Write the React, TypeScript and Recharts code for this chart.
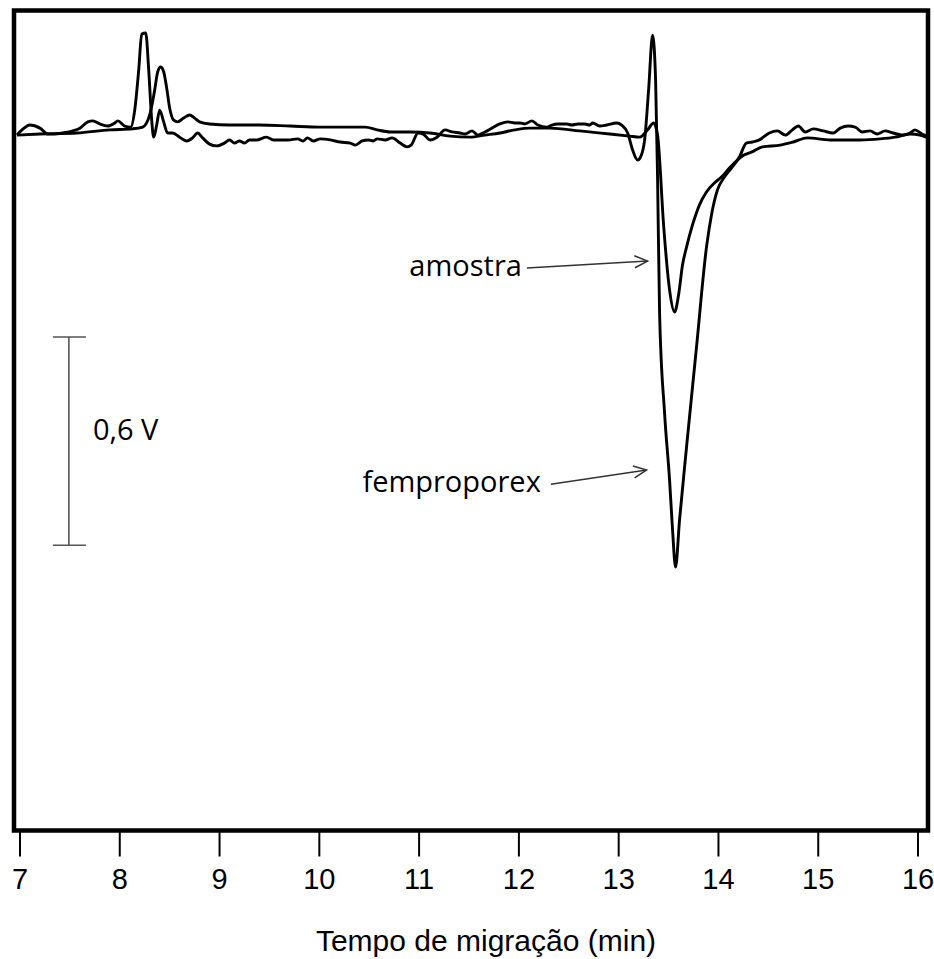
import React from 'react';
import { LineChart, Line, XAxis, YAxis, ReferenceArea, ReferenceLine } from 'recharts';

// eixo x: tempo de migração (min)
const timeTicks = [7, 8, 9, 10, 11, 12, 13, 14, 15, 16];
const timeDomain = [6.94, 16.1];
// eixo y: sinal (V), baseline em 0
const signalDomain = [-2.01, 0.353];

// femproporex (trace with noise, big peak)
const femproporexTime = [
  6.97, 7.02, 7.1, 7.2, 7.28, 7.35, 7.43, 7.53, 7.6, 7.68, 7.73, 7.8, 7.88, 7.95, 7.98, 8.05, 8.11, 8.15,
  8.19, 8.22, 8.26, 8.29, 8.32, 8.34, 8.37, 8.4, 8.44, 8.48, 8.53, 8.6, 8.67, 8.73, 8.78, 8.83, 8.9, 8.97,
  9.05, 9.1, 9.15, 9.2, 9.25, 9.3, 9.37, 9.47, 9.54, 9.61, 9.69, 9.78, 9.84, 9.88, 9.94, 10.01, 10.11,
  10.21, 10.31, 10.36, 10.43, 10.49, 10.54, 10.58, 10.66, 10.73, 10.81, 10.88, 10.92, 10.99, 11.04, 11.11,
  11.18, 11.26, 11.33, 11.41, 11.46, 11.53, 11.59, 11.66, 11.73, 11.81, 11.89, 11.96, 12.01, 12.06, 12.13,
  12.19, 12.28, 12.33, 12.39, 12.48, 12.53, 12.59, 12.66, 12.71, 12.74, 12.81, 12.88, 12.98, 13.03, 13.09,
  13.14, 13.19, 13.22, 13.26, 13.3, 13.34, 13.37, 13.39, 13.41, 13.46, 13.51, 13.54, 13.57, 13.61, 13.68,
  13.78, 13.88, 13.93, 13.99, 14.06, 14.13, 14.21, 14.28, 14.34, 14.41, 14.51, 14.59, 14.67, 14.74, 14.8,
  14.87, 14.95, 15.05, 15.15, 15.22, 15.3, 15.37, 15.44, 15.52, 15.59, 15.67, 15.75, 15.85, 15.92, 15.97,
  16.04, 16.1,
];
const femproporexSignal = [
  -0.006, 0.009, 0.023, 0.014, -0.003, -0.003, 0.0, 0.006, 0.014, 0.032, 0.035, 0.026, 0.02, 0.029, 0.035,
  0.02, 0.017, 0.066, 0.182, 0.285, 0.288, 0.182, 0.037, -0.012, 0.023, 0.066, 0.032, 0.0, 0.0, -0.012,
  -0.023, -0.014, 0.0, -0.014, -0.032, -0.037, -0.029, -0.02, -0.029, -0.023, -0.029, -0.02, -0.02, -0.012,
  -0.02, -0.02, -0.02, -0.017, -0.023, -0.014, -0.023, -0.017, -0.02, -0.026, -0.029, -0.035, -0.023, -0.02,
  -0.023, -0.017, -0.02, -0.014, -0.029, -0.04, -0.035, 0.0, -0.003, -0.02, -0.012, 0.009, 0.003, 0.0,
  -0.003, 0.006, -0.006, 0.003, 0.014, 0.026, 0.032, 0.029, 0.029, 0.026, 0.035, 0.023, 0.017, 0.023, 0.026,
  0.026, 0.023, 0.026, 0.026, 0.023, 0.029, 0.02, 0.023, 0.029, 0.023, 0.0, -0.049, -0.078, -0.069, -0.02,
  0.124, 0.282, 0.153, -0.135, -0.519, -0.807, -1.0, -1.144, -1.251, -1.115, -0.905, -0.617, -0.329, -0.236,
  -0.164, -0.127, -0.101, -0.069, -0.029, -0.026, -0.02, 0.0, 0.006, -0.006, 0.009, 0.02, 0.003, 0.012,
  0.006, 0.0, 0.014, 0.02, 0.017, 0.003, 0.006, -0.003, 0.006, 0.0, -0.006, 0.0, 0.009, -0.003, -0.009,
];

// amostra (smoother trace, smaller peak)
const amostraTime = [
  6.97, 7.2, 7.57, 7.9, 8.13, 8.23, 8.3, 8.35, 8.38, 8.41, 8.44, 8.47, 8.5, 8.54, 8.58, 8.64, 8.7, 8.75,
  8.8, 8.9, 9.1, 9.4, 9.71, 10.01, 10.31, 10.46, 10.58, 10.71, 10.91, 11.11, 11.31, 11.51, 11.66, 11.81,
  11.96, 12.11, 12.31, 12.61, 12.91, 13.11, 13.21, 13.29, 13.35, 13.39, 13.42, 13.44, 13.47, 13.51, 13.56,
  13.6, 13.64, 13.68, 13.74, 13.81, 13.88, 13.96, 14.03, 14.11, 14.18, 14.26, 14.33, 14.44, 14.62, 14.75,
  14.89, 15.12, 15.42, 15.62, 15.77, 15.92, 16.02, 16.1,
];
const amostraSignal = [
  -0.006, -0.003, 0.0, 0.009, 0.012, 0.017, 0.052, 0.124, 0.176, 0.19, 0.176, 0.13, 0.072, 0.037, 0.032,
  0.043, 0.052, 0.043, 0.032, 0.026, 0.023, 0.023, 0.02, 0.017, 0.017, 0.017, 0.009, 0.003, 0.003, 0.0,
  -0.009, -0.012, -0.006, 0.0, 0.009, 0.014, 0.014, 0.006, -0.003, -0.009, -0.012, 0.009, 0.029, -0.006,
  -0.121, -0.222, -0.337, -0.452, -0.516, -0.467, -0.38, -0.329, -0.265, -0.207, -0.17, -0.144, -0.127,
  -0.101, -0.081, -0.063, -0.055, -0.04, -0.035, -0.026, -0.014, -0.02, -0.02, -0.017, -0.012, -0.003,
  -0.006, -0.014,
];

// barra de escala 0,6 V
const scaleBarTime = 7.49;
const scaleBarTop = -0.588;
const scaleBarSize = 0.6;

// setas das anotações: [inicio, fim] em (min, V)
const amostraArrow = [
  { x: 12.08, y: -0.389 },
  { x: 13.29, y: -0.369 },
];
const femproporexArrow = [
  { x: 12.32, y: -1.012 },
  { x: 13.28, y: -0.971 },
];

const femproporexData = femproporexTime.map((t, i) => ({ t, v: femproporexSignal[i] }));
const amostraData = amostraTime.map((t, i) => ({ t, v: amostraSignal[i] }));

const axisFont = '"Liberation Sans", Arial, sans-serif';
const labelFont = '"Open Sans", "DejaVu Sans", sans-serif';

const makeArrow = (text: string, gap: number) => (p: any) => {
  const { x1, y1, x2, y2 } = p;
  const ang = Math.atan2(y2 - y1, x2 - x1);
  const hl = 13;
  const hw = 6;
  const bx = x2 - hl * Math.cos(ang);
  const by = y2 - hl * Math.sin(ang);
  const nx = -Math.sin(ang) * hw;
  const ny = Math.cos(ang) * hw;
  return (
    <g>
      <line x1={x1} y1={y1} x2={x2} y2={y2} stroke="#333" strokeWidth={1.5} />
      <polyline
        points={`${bx + nx},${by + ny} ${x2},${y2} ${bx - nx},${by - ny}`}
        fill="none"
        stroke="#333"
        strokeWidth={1.5}
      />
      <text x={x1 - gap} y={y1 + 8} textAnchor="end" fontSize={29} fontFamily={labelFont} fill="#000">
        {text}
      </text>
    </g>
  );
};

const ScaleBar = (p: any) => {
  const { x1, y1, y2 } = p;
  const mid = (y1 + y2) / 2;
  return (
    <g stroke="#555" strokeWidth={1.6}>
      <line x1={x1} y1={y1} x2={x1} y2={y2} />
      <line x1={x1 - 16} y1={y1} x2={x1 + 17} y2={y1} />
      <line x1={x1 - 16} y1={y2} x2={x1 + 17} y2={y2} />
      <text x={x1 + 24} y={mid - 1} fontSize={29} fontFamily={labelFont} fill="#000" stroke="none">
        0,6 V
      </text>
    </g>
  );
};

export default function App() {
  return (
    <div style={{ position: 'absolute', left: 0, top: 0, width: 934, height: 959, background: '#fff' }}>
      <LineChart width={934} height={959} margin={{ top: 10.5, right: 6, bottom: 8.5, left: 14 }}>
        <XAxis
          dataKey="t"
          type="number"
          domain={timeDomain}
          ticks={timeTicks}
          interval={0}
          allowDataOverflow
          axisLine={false}
          tickLine={{ stroke: '#000', strokeWidth: 2 }}
          tickSize={26}
          tickMargin={12}
          tick={{ fontSize: 29, fill: '#000', fontFamily: axisFont }}
          height={120}
          label={{
            value: 'Tempo de migração (min)',
            position: 'insideBottom',
            offset: 0,
            dx: 15,
            fontSize: 30,
            fill: '#000',
            fontFamily: axisFont,
          }}
        />
        <YAxis type="number" domain={signalDomain} allowDataOverflow hide />

        <ReferenceArea
          x1={timeDomain[0]}
          x2={timeDomain[1]}
          y1={signalDomain[0]}
          y2={signalDomain[1]}
          fill="none"
          stroke="#000"
          strokeWidth={4.5}
          fillOpacity={0}
          ifOverflow="visible"
        />

        <Line
          data={amostraData}
          dataKey="v"
          type="monotone"
          stroke="#000"
          strokeWidth={2.9}
          dot={false}
          activeDot={false}
          isAnimationActive={false}
        />
        <Line
          data={femproporexData}
          dataKey="v"
          type="monotone"
          stroke="#000"
          strokeWidth={2.9}
          dot={false}
          activeDot={false}
          isAnimationActive={false}
        />

        <ReferenceLine
          segment={[
            { x: scaleBarTime, y: scaleBarTop },
            { x: scaleBarTime, y: scaleBarTop - scaleBarSize },
          ]}
          ifOverflow="visible"
          shape={ScaleBar}
        />
        <ReferenceLine segment={amostraArrow} ifOverflow="visible" shape={makeArrow('amostra', 5)} />
        <ReferenceLine segment={femproporexArrow} ifOverflow="visible" shape={makeArrow('femproporex', 10)} />
      </LineChart>
    </div>
  );
}
